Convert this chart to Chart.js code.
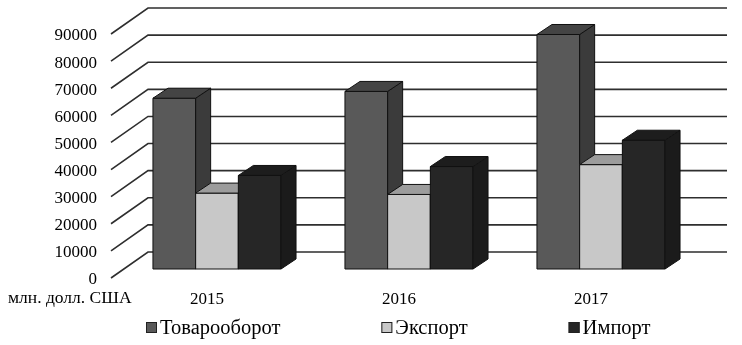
<!DOCTYPE html>
<html>
<head>
<meta charset="utf-8">
<script src="https://cdn.jsdelivr.net/npm/chart.js@4.4.1/dist/chart.umd.min.js"></script>
<style>
html, body { margin: 0; padding: 0; background: #fff; }
#wrap { width: 742px; height: 345px; }
</style>
</head>
<body>
<div id="wrap"><canvas id="chart"></canvas></div>
<script>
const years = ['2015', '2016', '2017'];
const turnover = [63000, 65500, 86500];
const exportsRu = [28000, 27500, 38500];
const importsRu = [34500, 37800, 47500];
const seriesNames = ['Товарооборот', 'Экспорт', 'Импорт'];
const unitLabel = 'млн. долл. США';
const yMax = 90000;
const yStep = 10000;

// front / top / side colours of the boxes
const faces = [
    { front: '#595959', top: '#444444', side: '#3b3b3b' },
    { front: '#c8c8c8', top: '#9c9c9c', side: '#8a8a8a' },
    { front: '#262626', top: '#1d1d1d', side: '#1b1b1b' }
];
const dx = 15, dy = -10;   // box depth
const serif = "'Liberation Serif', 'Times New Roman', serif";

function poly(ctx, pts, fill) {
    ctx.beginPath();
    ctx.moveTo(pts[0][0], pts[0][1]);
    for (let i = 1; i < pts.length; i++) ctx.lineTo(pts[i][0], pts[i][1]);
    ctx.closePath();
    ctx.fillStyle = fill;
    ctx.fill();
    ctx.stroke();
}

// back wall lines + slanted side wall
const wallPlugin = {
    id: 'wall',
    beforeDatasetsDraw(chart) {
        const { ctx, chartArea: a, scales: { y } } = chart;
        ctx.save();
        ctx.strokeStyle = '#2e2e2e';
        ctx.lineWidth = 1.6;
        y.ticks.forEach(t => {
            const py = y.getPixelForValue(t.value);
            ctx.beginPath();
            ctx.moveTo(a.left - 10, py + 9);
            ctx.lineTo(a.left + 27, py - 17);
            ctx.lineTo(a.right + 30, py - 17);
            ctx.stroke();
        });
        ctx.restore();
    }
};

// redraw every bar as a box, left to right inside each group
const boxPlugin = {
    id: 'boxes',
    afterDatasetsDraw(chart) {
        const ctx = chart.ctx;
        const metas = chart.data.datasets.map((d, i) => chart.getDatasetMeta(i));
        ctx.save();
        ctx.lineWidth = 1;
        ctx.strokeStyle = '#111';
        ctx.lineJoin = 'round';
        years.forEach((_, j) => {
            metas.forEach((meta, i) => {
                const { x, y, base, width } = meta.data[j].getProps(['x', 'y', 'base', 'width'], true);
                const l = x - width / 2, r = x + width / 2;
                const c = faces[i];
                poly(ctx, [[l, y], [r, y], [r, base], [l, base]], c.front);
                poly(ctx, [[r, y], [r + dx, y + dy], [r + dx, base + dy], [r, base]], c.side);
                poly(ctx, [[l, y], [r, y], [r + dx, y + dy], [l + dx, y + dy]], c.top);
            });
        });
        ctx.restore();
    }
};

// unit label and legend row
const textPlugin = {
    id: 'texts',
    afterDraw(chart) {
        const ctx = chart.ctx;
        ctx.save();
        ctx.textBaseline = 'middle';
        ctx.fillStyle = '#000';
        ctx.font = '17.5px ' + serif;
        ctx.fillText(unitLabel, 8, 298);

        ctx.font = '20.5px ' + serif;
        ctx.lineWidth = 1;
        ctx.strokeStyle = '#222';
        let x = 146;
        const y = 328;
        seriesNames.forEach((name, i) => {
            ctx.fillStyle = faces[i].front;
            ctx.fillRect(x, y - 6, 11, 11);
            ctx.strokeRect(x + 0.5, y - 5.5, 10, 10);
            ctx.fillStyle = '#000';
            ctx.fillText(name, x + 14, y + 1);
            x += 14 + ctx.measureText(name).width + 101;
        });
        ctx.restore();
    }
};

new Chart(document.getElementById('chart'), {
    type: 'bar',
    data: {
        labels: years,
        datasets: [
            { label: seriesNames[0], data: turnover, backgroundColor: faces[0].front },
            { label: seriesNames[1], data: exportsRu, backgroundColor: faces[1].front },
            { label: seriesNames[2], data: importsRu, backgroundColor: faces[2].front }
        ]
    },
    options: {
        responsive: true,
        maintainAspectRatio: false,
        animation: false,
        events: [],
        categoryPercentage: 0.667,
        barPercentage: 1.0,
        layout: { padding: { top: 25, left: 0, right: 45, bottom: 31 } },
        plugins: {
            legend: { display: false },
            tooltip: { enabled: false }
        },
        scales: {
            x: {
                grid: { display: false, drawTicks: false },
                border: { display: false },
                ticks: {
                    color: '#000',
                    font: { family: serif, size: 17 },
                    padding: 20,
                    labelOffset: -10,
                    maxRotation: 0
                },
                afterFit(axis) { axis.height = 45; }
            },
            y: {
                min: 0,
                max: yMax,
                grid: { display: false, drawTicks: false },
                border: { display: false },
                ticks: {
                    stepSize: yStep,
                    color: '#000',
                    font: { family: serif, size: 17 },
                    padding: 24,
                    labelOffset: 11,
                    callback: v => String(v)
                },
                afterFit(axis) {
                    axis.width = 121;
                    axis.paddingTop = 0;
                    axis.paddingBottom = 0;
                }
            }
        }
    },
    plugins: [wallPlugin, boxPlugin, textPlugin]
});
</script>
</body>
</html>
